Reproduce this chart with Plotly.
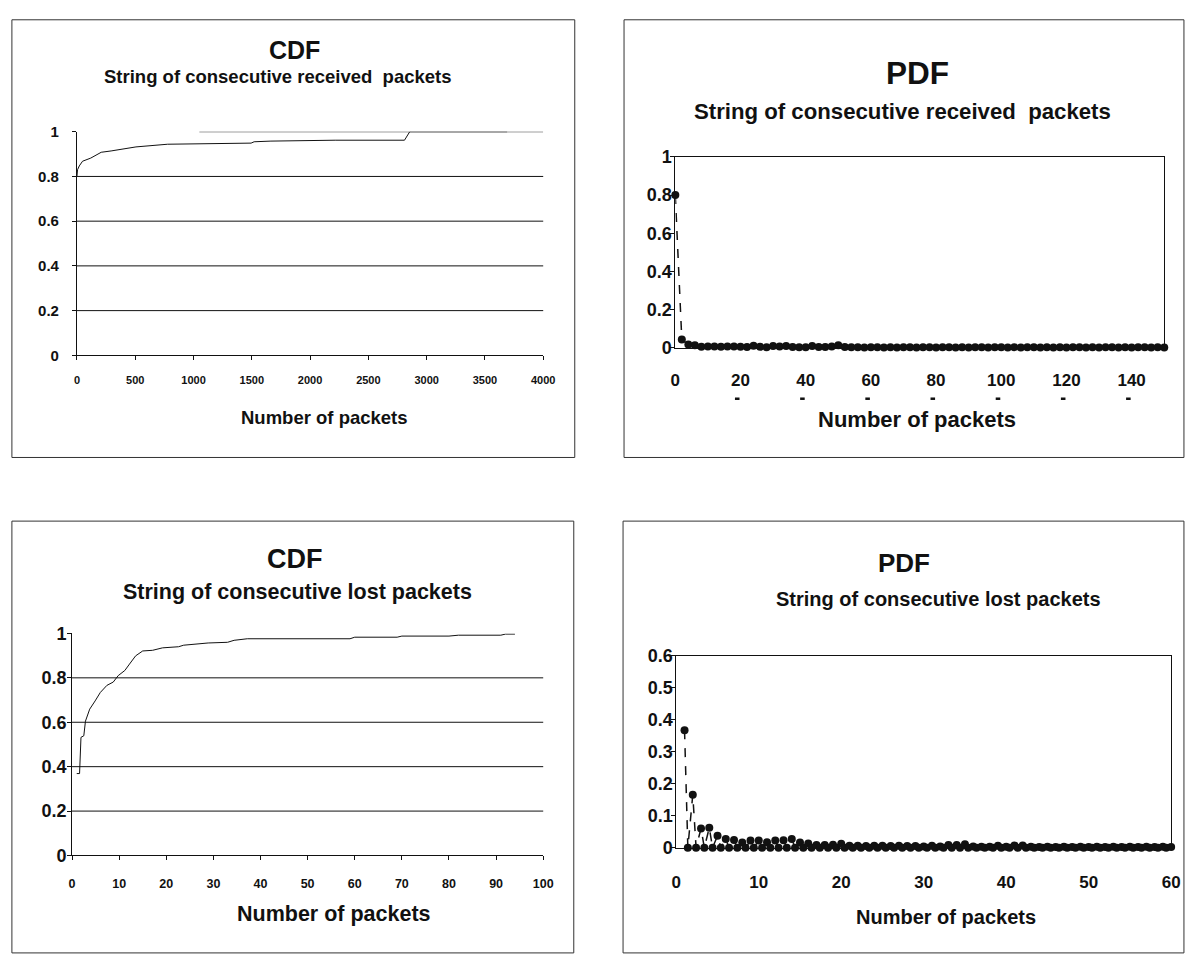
import plotly.graph_objects as go

W, H = 1192, 959

# ---------------- data ----------------
# CDF of runs of consecutive received packets
rec_cdf_len = [0, 5, 20, 48, 118, 208, 293, 407, 506, 778, 1053, 1494, 1520,
               1664, 2215, 2810, 2855, 3690]
rec_cdf_val = [0.80, 0.83, 0.847, 0.868, 0.882, 0.908, 0.914, 0.924, 0.932,
               0.944, 0.946, 0.949, 0.955, 0.958, 0.962, 0.962, 1.0, 1.0]

# PDF of runs of consecutive received packets
rec_pdf_len = list(range(0, 151, 2))
rec_pdf_val = [0.800, 0.043, 0.017, 0.013, 0.006, 0.007, 0.007, 0.006, 0.007, 0.007,
               0.006, 0.004, 0.011, 0.005, 0.003, 0.010, 0.007, 0.009, 0.004, 0.003,
               0.003, 0.010, 0.004, 0.004, 0.007, 0.013, 0.004, 0.003, 0.003, 0.002,
               0.003, 0.003, 0.002, 0.003, 0.002, 0.003, 0.003, 0.002, 0.003, 0.003,
               0.002, 0.003, 0.003, 0.002, 0.003, 0.002, 0.003, 0.003, 0.002, 0.003,
               0.003, 0.002, 0.003, 0.002, 0.003, 0.003, 0.002, 0.003, 0.002, 0.003,
               0.002, 0.003, 0.003, 0.002, 0.003, 0.002, 0.003, 0.003, 0.002, 0.003,
               0.002, 0.003, 0.003, 0.002, 0.003, 0.002]

# CDF of runs of consecutive lost packets
lost_cdf_len = [1.0, 1.6, 1.9, 2.5, 2.85, 3.75, 4.9, 6.0, 7.4, 8.75, 9.8, 11.2,
                12.2, 13.5, 15.0, 17.1, 19.2, 22.6, 23.7, 28.9, 33.0, 34.4, 37.2,
                52.5, 59.0, 60.0, 69.0, 70.0, 80.0, 82.0, 91.0, 92.0, 94.0]
lost_cdf_val = [0.369, 0.369, 0.532, 0.539, 0.605, 0.659, 0.696, 0.734, 0.766,
                0.781, 0.810, 0.833, 0.862, 0.899, 0.921, 0.924, 0.935, 0.940,
                0.947, 0.957, 0.960, 0.969, 0.976, 0.976, 0.976, 0.983, 0.983,
                0.988, 0.988, 0.992, 0.992, 0.997, 0.997]

# PDF of runs of consecutive lost packets
lost_pdf_len = list(range(1, 61))
lost_pdf_val = [0.367, 0.165, 0.060, 0.062, 0.037, 0.027, 0.024, 0.016, 0.022, 0.022,
                0.017, 0.022, 0.023, 0.027, 0.016, 0.013, 0.008, 0.008, 0.009, 0.012,
                0.006, 0.006, 0.005, 0.006, 0.006, 0.005, 0.006, 0.005, 0.005, 0.004,
                0.006, 0.004, 0.008, 0.008, 0.011, 0.004, 0.003, 0.003, 0.006, 0.003,
                0.007, 0.007, 0.003, 0.002, 0.003, 0.002, 0.003, 0.002, 0.003, 0.002,
                0.003, 0.002, 0.003, 0.002, 0.003, 0.002, 0.003, 0.002, 0.003, 0.002]
GAP_OFFSET = 0.4  # empty bin drawn just after each run length

# ---------------- styling ----------------
FONT = "Liberation Sans, Arial, sans-serif"
INK = "#111111"


def px(x):
    return x / W


def py(y):
    return 1 - y / H


def bold(size):
    return dict(family=FONT, size=size, color=INK, weight="bold")


fig = go.Figure()

# top-left: CDF received
fig.add_trace(go.Scatter(x=rec_cdf_len, y=rec_cdf_val, mode="lines",
                         line=dict(color=INK, width=1), xaxis="x", yaxis="y",
                         showlegend=False, hoverinfo="skip"))

# top-right: PDF received
fig.add_trace(go.Scatter(x=rec_pdf_len, y=rec_pdf_val, mode="lines+markers",
                         line=dict(color=INK, width=1.5, dash="dash"),
                         marker=dict(color=INK, size=8),
                         xaxis="x2", yaxis="y2", showlegend=False, cliponaxis=False,
                         hoverinfo="skip"))

# bottom-left: CDF lost
fig.add_trace(go.Scatter(x=lost_cdf_len, y=lost_cdf_val, mode="lines",
                         line=dict(color=INK, width=1), xaxis="x3", yaxis="y3",
                         showlegend=False, hoverinfo="skip"))

# bottom-right: PDF lost, each run length followed by its empty neighbour bin
lx, ly = [], []
for L, p in zip(lost_pdf_len, lost_pdf_val):
    lx += [L, L + GAP_OFFSET]
    ly += [p, 0.0]
fig.add_trace(go.Scatter(x=lx, y=ly, mode="lines+markers",
                         line=dict(color=INK, width=1.5, dash="dash"),
                         marker=dict(color=INK, size=8),
                         xaxis="x4", yaxis="y4", showlegend=False, cliponaxis=False,
                         hoverinfo="skip"))


def axis_common(**kw):
    d = dict(showline=True, linecolor=INK, linewidth=1, zeroline=False,
             ticks="outside", ticklen=4, tickcolor=INK, tickwidth=1,
             showgrid=False, fixedrange=True)
    d.update(kw)
    return d


cdf_ticks = [0, 0.2, 0.4, 0.6, 0.8, 1]
cdf_text = ["0", "0.2", "0.4", "0.6", "0.8", "1"]
rec_pdf_ticks = list(range(0, 141, 20))

fig.update_layout(
    width=W, height=H, margin=dict(l=0, r=0, t=0, b=0),
    paper_bgcolor="white", plot_bgcolor="white",
    # top-left
    xaxis=axis_common(domain=[px(73), px(546)], anchor="y", range=[0, 4000],
                      tickvals=list(range(0, 4001, 500)),
                      tickfont=bold(11), ticklabelstandoff=10),
    yaxis=axis_common(domain=[py(352.7), py(124.3)], anchor="x", range=[0, 1],
                      tickvals=cdf_ticks, ticktext=cdf_text,
                      tickfont=bold(15), ticklabelstandoff=10),
    # top-right
    xaxis2=axis_common(domain=[px(680), px(1176)], anchor="y2", range=[0, 150],
                       tickvals=rec_pdf_ticks, mirror=True, ticks="",
                       tickfont=bold(17), ticklabelstandoff=17),
    yaxis2=axis_common(domain=[py(345), py(150)], anchor="x2", range=[0, 1],
                       tickvals=cdf_ticks, ticktext=cdf_text, mirror=True,
                       tickfont=bold(18), ticklabelstandoff=-5),
    # bottom-left
    xaxis3=axis_common(domain=[px(68), px(546)], anchor="y3", range=[0, 100],
                       tickvals=list(range(0, 101, 10)),
                       tickfont=bold(12.5), ticklabelstandoff=13),
    yaxis3=axis_common(domain=[py(863.5), py(636.7)], anchor="x3", range=[0, 1],
                       tickvals=cdf_ticks, ticktext=cdf_text,
                       tickfont=bold(18), ticklabelstandoff=-3),
    # bottom-right
    xaxis4=axis_common(domain=[px(681), px(1183)], anchor="y4", range=[0, 60],
                       tickvals=list(range(0, 61, 10)), mirror=True, ticks="",
                       tickfont=bold(17), ticklabelstandoff=19),
    yaxis4=axis_common(domain=[py(855.5), py(659.3)], anchor="x4", range=[0, 0.6],
                       tickvals=[0, 0.1, 0.2, 0.3, 0.4, 0.5, 0.6],
                       ticktext=["0", "0.1", "0.2", "0.3", "0.4", "0.5", "0.6"],
                       mirror=True, tickfont=bold(18), ticklabelstandoff=-5),
)

shapes = []
# panel frames
for x0, y0, x1, y1 in [(7, 10, 578, 457), (628, 10, 1196, 457),
                       (7, 522, 577, 963), (627, 522, 1196, 963)]:
    shapes.append(dict(type="rect", xref="paper", yref="paper",
                       x0=px(x0), x1=px(x1), y0=py(y1), y1=py(y0),
                       line=dict(color="#333333", width=1)))
# horizontal gridlines of the CDF panels
for g in [0.2, 0.4, 0.6, 0.8]:
    shapes.append(dict(type="line", xref="x domain", yref="y", x0=0, x1=1,
                       y0=g, y1=g, line=dict(color=INK, width=1), layer="below"))
    shapes.append(dict(type="line", xref="x3 domain", yref="y3", x0=0, x1=1,
                       y0=g, y1=g, line=dict(color=INK, width=1), layer="below"))
shapes.append(dict(type="line", xref="x", yref="y", x0=1050, x1=4000,
                   y0=1, y1=1, line=dict(color=INK, width=1), layer="below"))
# small marks printed beneath the received-PDF tick labels
for t in rec_pdf_ticks[1:]:
    shapes.append(dict(type="line", xref="x2", yref="paper", x0=t - 1.7, x1=t - 0.3,
                       y0=py(397), y1=py(397), line=dict(color=INK, width=2.5)))
fig.update_layout(shapes=shapes)

annotations = []


def label(text, x, y, size):
    annotations.append(dict(text=text, x=px(x), y=py(y), xref="paper", yref="paper",
                            showarrow=False, xanchor="center", yanchor="middle",
                            font=bold(size)))


label("CDF", 294, 41, 25)
label("String of consecutive received\u00a0 packets", 277, 68, 18.5)
label("Number of packets", 324, 416, 18.5)

label("PDF", 926, 64, 31.5)
label("String of consecutive received\u00a0 packets", 910, 104, 22.2)
label("Number of packets", 925, 418, 22)

label("CDF", 294, 561, 27)
label("String of consecutive lost packets", 297, 594, 21.5)
label("Number of packets", 334, 923, 21.5)

label("PDF", 912, 565, 26)
label("String of consecutive lost packets", 947, 602, 20)
label("Number of packets", 955, 926, 20)

fig.update_layout(annotations=annotations)

fig.write_html("out.html")
